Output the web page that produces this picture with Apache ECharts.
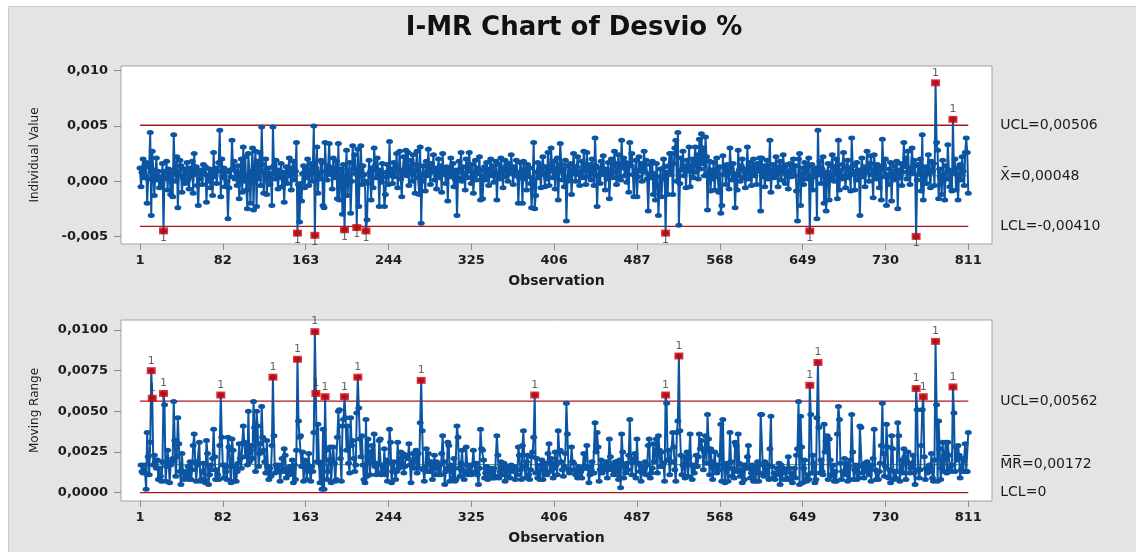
<!DOCTYPE html>
<html>
<head>
<meta charset="utf-8">
<title>I-MR Chart of Desvio %</title>
<script src="https://cdn.jsdelivr.net/npm/echarts@6/dist/echarts.min.js"></script>
<style>
  html, body { margin: 0; padding: 0; background: #ffffff; }
  #panel { position: absolute; left: 8px; top: 6px; width: 1128px; height: 546px;
           background: #e4e4e4; border-left: 1px solid #cdcdcd; border-top: 1px solid #cdcdcd; }
  #chart { position: absolute; left: 0; top: 0; width: 1136px; height: 552px; }
</style>
</head>
<body>
<div id="panel"></div>
<div id="chart"></div>
<script>
// Tick positions
const observationTicks = [1, 82, 163, 244, 325, 406, 487, 568, 649, 730, 811];
const individualTicks = [-0.005, 0, 0.005, 0.010];
const movingRangeTicks = [0, 0.0025, 0.005, 0.0075, 0.010];

// Individual observations of Desvio %, in order (observations 1..811)
const desvio = [
  .0012,-.0005,.0008,.0020,.0003,.0015,.0017,-.0020,.0002,.0013,.0044,-.0031,.0027,.0010,-.0013,.0006,.0021,.0001,.0009,-.0006,
  .0004,-.0003,.0016,-.0045,.0009,.0002,.0018,-.0008,.0011,.0005,-.0012,.0007,-.0014,.0042,.0010,0,.0022,-.0024,.0006,.0019,
  .0014,-.0010,.0003,.0011,-.0002,.0008,.0017,.0001,-.0007,.0012,.0004,.0018,-.0011,.0025,.0006,.0013,-.0004,-.0022,.0009,.0002,
  .0010,-.0003,.0015,.0007,.0013,-.0019,.0005,0,.0011,-.0006,.0008,-.0013,.0026,.0004,.0012,-.0002,.0009,.0017,.0046,-.0014,
  .0020,.0003,.0012,-.0005,.0008,0,-.0034,-.0006,.0010,.0004,.0037,.0011,.0018,.0002,.0009,-.0004,.0014,-.0016,.0005,.0020,
  -.0010,.0031,0,.0022,-.0008,-.0025,.0025,.0006,-.0020,.0009,.0030,-.0026,.0014,.0027,-.0023,.0018,.0002,.0026,-.0004,.0049,
  .0015,-.0011,.0008,.0020,-.0012,.0004,.0012,-.0003,.0007,-.0022,.0049,.0014,.0002,.0019,.0006,-.0007,.0010,.0003,.0016,-.0005,
  .0008,-.0019,.0004,.0013,-.0002,.0010,.0021,.0005,-.0008,.0012,.0018,.0001,.0009,.0035,-.0047,-.0003,-.0037,-.0002,-.0018,.0007,
  .0014,-.0006,.0011,.0003,.0020,-.0004,.0009,.0016,0,.0013,.0050,-.0049,.0012,.0031,-.0011,.0008,.0002,.0019,.0017,-.0022,
  -.0024,.0035,.0009,.0001,.0014,.0034,.0006,.0012,-.0007,.0021,.0003,.0010,.0018,-.0016,.0034,-.0017,.0004,.0011,-.0030,.0015,
  -.0044,.0002,.0028,-.0013,.0005,.0017,-.0029,0,.0032,.0011,.0024,.0007,-.0042,.0029,-.0023,.0010,.0032,-.0003,.0014,.0006,
  0,-.0045,-.0035,-.0002,.0019,.0008,-.0017,.0012,-.0006,.0030,.0014,.0003,.0021,.0009,-.0023,.0010,-.0001,.0016,.0004,-.0023,
  -.0012,.0008,.0015,-.0003,.0036,.0005,.0011,-.0002,.0017,.0004,.0012,.0025,-.0006,.0009,.0027,.0002,-.0014,.0010,.0022,.0006,
  .0028,.0005,.0026,-.0004,.0013,.0019,0,.0024,.0009,-.0011,.0015,.0027,.0003,-.0012,.0031,-.0038,0,.0014,.0007,-.0009,
  .0018,.0005,.0029,.0010,-.0003,.0016,.0008,.0024,.0001,.0012,-.0007,.0009,.0020,.0003,.0014,-.0010,.0025,.0006,.0011,-.0002,
  .0013,-.0018,.0011,.0004,.0021,.0007,.0016,-.0005,.0002,.0010,-.0031,.0003,.0018,.0008,.0026,0,.0013,.0005,-.0008,.0020,
  .0003,.0014,.0026,.0009,-.0002,.0015,-.0011,.0006,.0019,.0001,.0012,.0007,.0022,-.0017,.0010,-.0016,.0004,.0013,.0001,.0017,
  .0009,-.0004,.0011,.0020,.0005,.0014,-.0001,.0008,.0018,-.0017,.0006,.0015,.0002,.0021,.0010,-.0006,.0012,.0019,.0004,.0014,
  0,.0016,.0007,.0024,.0010,-.0003,.0013,.0005,.0019,.0008,-.0020,.0003,.0017,.0009,-.0020,.0018,.0002,.0011,-.0008,.0015,
  .0004,.0012,-.0002,-.0024,.0001,.0035,-.0025,-.0013,.0008,.0017,.0003,.0011,-.0006,.0014,.0022,.0006,-.0005,.0013,.0002,.0026,
  -.0004,.0009,.0030,.0012,.0003,.0018,-.0007,.0010,.0021,-.0017,.0008,.0034,.0015,.0001,.0011,-.0005,.0019,-.0036,0,.0014,
  .0002,.0016,-.0012,.0007,.0025,.0011,0,.0013,.0022,.0006,-.0004,.0009,.0018,.0003,.0027,.0012,-.0003,.0026,.0010,.0004,
  .0015,.0001,.0020,.0008,-.0004,.0039,.0014,-.0023,.0005,.0012,-.0002,.0018,.0006,.0023,.0009,-.0008,.0011,.0002,.0017,-.0016,
  .0006,.0020,.0003,.0014,.0027,.0008,-.0003,.0016,.0024,.0004,.0001,.0037,.0012,.0021,.0005,.0017,-.0001,.0013,-.0010,.0035,
  .0014,.0025,.0006,-.0014,.0010,.0019,-.0014,.0004,.0022,.0009,.0016,0,.0012,.0027,.0008,.0019,.0002,-.0027,.0006,.0015,
  .0003,.0018,-.0012,.0007,-.0017,.0016,.0004,-.0031,-.0005,.0011,-.0014,.0002,.0020,.0013,-.0047,.0008,-.0012,.0014,.0025,.0006,
  .0025,-.0012,.0016,.0030,.0037,0,.0044,-.0040,-.0002,.0021,.0010,.0027,.0005,.0014,-.0006,.0019,.0009,.0031,-.0005,.0012,
  .0020,.0003,.0015,.0031,.0008,.0024,.0002,.0038,.0011,.0043,.0016,.0030,.0005,.0040,.0022,-.0026,.0007,.0018,-.0009,.0010,
  .0002,.0017,-.0008,.0009,.0021,.0004,-.0010,.0013,-.0029,-.0022,.0023,.0006,.0012,-.0003,.0015,.0008,-.0007,.0030,.0011,.0001,
  .0016,.0007,-.0024,.0005,-.0008,.0028,.0010,0,.0014,.0020,.0003,.0011,-.0006,.0009,.0031,.0002,.0017,.0008,-.0004,.0013,
  .0020,.0005,.0012,-.0003,.0016,.0009,.0021,-.0027,.0021,.0004,.0014,-.0005,.0008,.0019,.0002,.0010,.0037,-.0010,.0006,.0015,
  .0003,.0011,.0022,.0007,-.0005,.0013,.0018,.0001,.0009,.0024,.0012,-.0002,.0006,.0015,-.0007,.0008,.0016,.0004,.0010,.0020,
  .0005,.0014,-.0009,-.0036,.0020,.0025,-.0022,.0006,.0012,-.0003,.0017,.0009,.0002,.0013,.0021,-.0045,.0003,.0015,-.0008,.0010,
  .0004,.0012,-.0034,.0046,.0006,.0018,-.0002,.0011,.0022,-.0020,.0005,-.0027,.0008,.0016,-.0017,.0003,.0014,.0024,.0007,0,
  .0013,.0020,-.0016,.0037,-.0008,.0010,.0002,.0015,.0026,.0005,-.0006,.0012,.0019,.0003,.0011,-.0009,.0039,.0014,.0006,-.0008,
  .0009,.0017,.0001,.0010,-.0031,.0009,.0021,.0004,.0013,-.0005,.0008,.0027,.0011,0,.0016,.0023,.0006,-.0015,.0024,.0010,
  .0002,.0015,.0007,-.0006,.0012,-.0017,.0038,.0014,.0004,.0020,-.0022,.0006,-.0003,.0011,.0017,-.0018,.0009,.0001,.0014,.0005,
  .0018,-.0025,.0010,.0003,.0016,-.0004,.0008,.0035,.0013,.0021,.0002,.0027,.0009,-.0003,.0012,.0030,.0007,.0019,.0014,-.0050,
  .0001,.0015,.0006,.0020,-.0009,.0042,-.0017,.0005,.0013,-.0002,.0010,.0024,.0007,-.0006,.0018,.0009,.0016,-.0004,.0089,.0035,
  .0028,-.0016,.0011,.0003,-.0012,.0019,.0006,-.0017,.0014,.0002,.0033,.0010,-.0005,.0008,-.0009,.0056,.0007,.0020,-.0008,.0012,
  -.0017,.0006,.0015,.0001,.0022,.0009,-.0004,.0026,.0039,.0026,-.0011
];

// Control limits of the Individuals chart
const I_UCL = 0.00506;
const I_MEAN = 0.00048;
const I_LCL = -0.00410;
// Control limits of the Moving Range chart
const MR_UCL = 0.00562;
const MR_MEAN = 0.00172;
const MR_LCL = 0;

// Moving range of two consecutive observations (starts at observation 2)
const movingRange = desvio.slice(1).map((v, i) => Math.abs(v - desvio[i]));

const BLUE = '#0b55a3';
const RED_LINE = '#a8181b';
const GREEN = '#4a9e46';
const FLAG = '#d80000';
const TEXT = '#1c1c1c';
const FONT = 'DejaVu Sans';

const comma = (v, d) => v.toFixed(d).replace('.', ',');
const firstObs = observationTicks[0];
const lastObs = observationTicks[observationTicks.length - 1];

function limitLine(idx, value, color, width, text, z) {
  return {
    type: 'line', xAxisIndex: idx, yAxisIndex: idx, silent: true, z: z,
    data: [[firstObs, value], [lastObs, value]],
    symbol: 'none',
    lineStyle: { color: color, width: width },
    endLabel: { show: true, distance: 32, formatter: () => text,
                color: TEXT, fontSize: 14, fontFamily: FONT }
  };
}

function dataLine(idx, values, start) {
  return {
    type: 'line', xAxisIndex: idx, yAxisIndex: idx, silent: true, z: 3,
    data: values.map((v, i) => [i + start, v]),
    symbol: 'circle', symbolSize: [7, 5], showSymbol: true, showAllSymbol: true,
    lineStyle: { color: BLUE, width: 2 },
    itemStyle: { color: BLUE }
  };
}

function flaggedPoints(idx, values, start, lo, hi) {
  const pts = values.map((v, i) => [i + start, v]).filter(p => p[1] > hi || p[1] < lo);
  return {
    type: 'scatter', xAxisIndex: idx, yAxisIndex: idx, silent: true, z: 5,
    symbol: 'rect', symbolSize: [9, 7],
    itemStyle: { color: FLAG },
    label: { show: true, formatter: '1', fontSize: 11, color: '#3a3a3a', fontFamily: FONT },
    data: pts.map(p => ({
      value: p,
      label: p[1] > hi ? { position: 'top', distance: 1 } : { position: 'bottom', distance: -2 }
    }))
  };
}

function xAxisFor(idx) {
  return {
    type: 'value', gridIndex: idx, min: -17.58, max: 834.2,
    axisLine: { show: false, onZero: false }, splitLine: { show: false },
    axisTick: { show: true, customValues: observationTicks, length: 6,
                lineStyle: { color: '#8a8a8a' } },
    axisLabel: { customValues: observationTicks, margin: 10, fontFamily: FONT,
                 fontWeight: 'bold', fontSize: 13, color: TEXT },
    name: 'Observation', nameLocation: 'middle', nameGap: 30,
    nameTextStyle: { fontFamily: FONT, fontWeight: 'bold', fontSize: 14, color: TEXT }
  };
}

function yAxisFor(idx, min, max, ticks, digits, name) {
  return {
    type: 'value', gridIndex: idx, min: min, max: max,
    axisLine: { show: false, onZero: false }, splitLine: { show: false },
    axisTick: { show: true, customValues: ticks, length: 7,
                lineStyle: { color: '#8a8a8a' } },
    axisLabel: { customValues: ticks, margin: 13, formatter: v => comma(v, digits),
                 fontFamily: FONT, fontWeight: 'bold', fontSize: 13, color: TEXT },
    name: name, nameLocation: 'middle', nameGap: 80,
    nameTextStyle: { fontFamily: FONT, fontSize: 12, color: TEXT }
  };
}

const chart = echarts.init(document.getElementById('chart'), null, { renderer: 'canvas' });
chart.setOption({
  animation: false,
  backgroundColor: 'transparent',
  textStyle: { fontFamily: FONT },
  graphic: [{
    type: 'text', x: 574, y: 28,
    style: { text: 'I-MR Chart of Desvio %', fontFamily: FONT, fontWeight: 'bold',
             fontSize: 26, fill: '#111111', textAlign: 'center', textVerticalAlign: 'middle' }
  }],
  grid: [
    { left: 121, top: 66, width: 871, height: 178, show: true, backgroundColor: '#ffffff',
      borderColor: '#a3a3a3', borderWidth: 1, outerBoundsMode: 'none' },
    { left: 121, top: 320, width: 871, height: 181, show: true, backgroundColor: '#ffffff',
      borderColor: '#a3a3a3', borderWidth: 1, outerBoundsMode: 'none' }
  ],
  xAxis: [xAxisFor(0), xAxisFor(1)],
  yAxis: [
    yAxisFor(0, -0.005687, 0.010425, individualTicks, 3, 'Individual Value'),
    yAxisFor(1, -0.000518, 0.010616, movingRangeTicks, 4, 'Moving Range')
  ],
  series: [
    limitLine(0, I_MEAN, GREEN, 1, 'X\u0304=' + comma(I_MEAN, 5), 1),
    limitLine(0, I_UCL, RED_LINE, 1.3, 'UCL=' + comma(I_UCL, 5), 2),
    limitLine(0, I_LCL, RED_LINE, 1.3, 'LCL=' + comma(I_LCL, 5), 2),
    dataLine(0, desvio, 1),
    flaggedPoints(0, desvio, 1, I_LCL, I_UCL),

    limitLine(1, MR_MEAN, GREEN, 1, 'M\u0305R\u0305=' + comma(MR_MEAN, 5), 1),
    limitLine(1, MR_UCL, RED_LINE, 1.3, 'UCL=' + comma(MR_UCL, 5), 2),
    limitLine(1, MR_LCL, RED_LINE, 1.3, 'LCL=' + (MR_LCL === 0 ? '0' : comma(MR_LCL, 5)), 2),
    dataLine(1, movingRange, 2),
    flaggedPoints(1, movingRange, 2, -Infinity, MR_UCL)
  ]
});
</script>
</body>
</html>
